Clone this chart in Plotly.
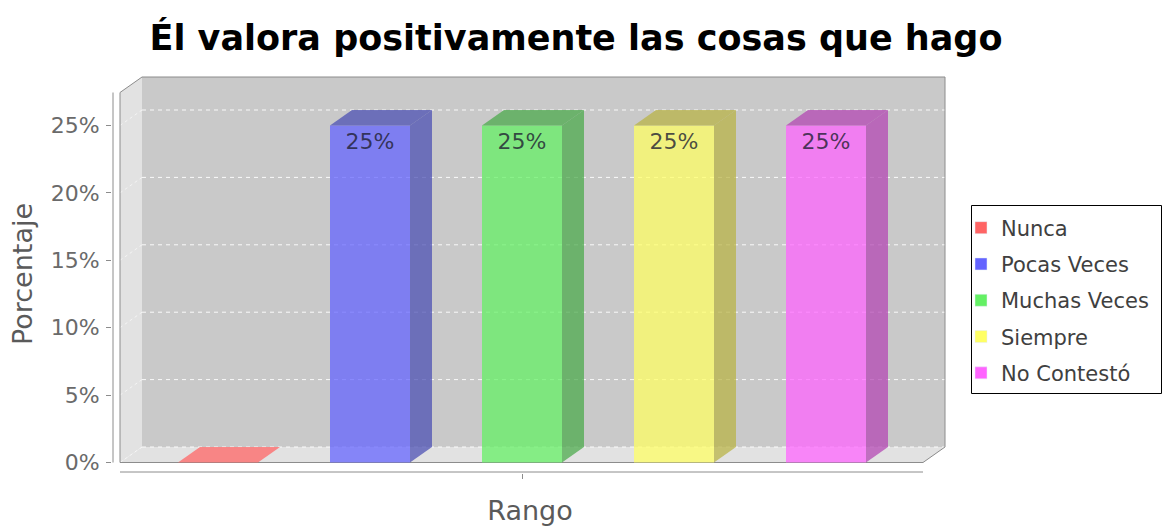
import plotly.graph_objects as go

# ---- data ----
series = ["Nunca", "Pocas Veces", "Muchas Veces", "Siempre", "No Contestó"]
values = [0, 25, 25, 25, 25]
y_ticks = [0, 5, 10, 15, 20, 25]
y_tick_labels = [f"{t}%" for t in y_ticks]
title_text = "Él valora positivamente las cosas que hago"
x_title = "Rango"
y_title = "Porcentaje"

# ---- style ----
legend_colors = ["#FF6464", "#6464FF", "#64F064", "#FFFF64", "#FF64FF"]
front_colors = ["rgba(255,100,100,0.74)", "rgba(100,100,255,0.74)", "rgba(100,240,100,0.74)",
                "rgba(255,255,100,0.74)", "rgba(255,100,255,0.74)"]
dark_colors = ["rgba(178,70,70,0.74)", "rgba(75,80,180,0.74)", "rgba(75,170,75,0.74)",
               "rgba(185,180,70,0.74)", "rgba(180,70,180,0.74)"]

# pixel geometry -> axis scales
W, H = 1165, 531
L, R, T, B = 112, 948, 75, 473
PX0, PXS = 218.0, 152.0      # pixel of series 0 centre, px per series step
PY0, PYS = 462.5, 13.48      # pixel of 0 %, px per percent
xmin, xmax = (L - PX0) / PXS, (R - PX0) / PXS
ymin, ymax = (PY0 - B) / PYS, (PY0 - T) / PYS

bar_w = 80 / PXS
dx = 22 / PXS
dy = 15.5 / PYS
xL = (120 - PX0) / PXS
xRr = (923 - PX0) / PXS
ytop_back = (PY0 - 77) / PYS
ytop_front = ytop_back - dy
x_axis_y = (PY0 - 472) / PYS
y_axis_x = (113 - PX0) / PXS

fig = go.Figure()

# 3D bar faces
for i, (name, v) in enumerate(zip(series, values)):
    x0, x1 = i - bar_w / 2, i + bar_w / 2
    # side face
    if v > 0:
        fig.add_trace(go.Scatter(
            x=[x1, x1 + dx, x1 + dx, x1, x1], y=[0, dy, v + dy, v, 0],
            fill="toself", fillcolor=dark_colors[i], line=dict(width=0),
            mode="lines", showlegend=False, hoverinfo="skip"))
    # top face
    fig.add_trace(go.Scatter(
        x=[x0, x1, x1 + dx, x0 + dx, x0], y=[v, v, v + dy, v + dy, v],
        fill="toself", fillcolor=(dark_colors[i] if v > 0 else front_colors[i]),
        line=dict(width=0), mode="lines", showlegend=False, hoverinfo="skip"))
    # front face
    fig.add_trace(go.Bar(
        x=[i], y=[v], width=bar_w, marker=dict(color=front_colors[i], line=dict(width=0)),
        text=[f"{v:g}%" if v > 0 else ""], textposition="inside", insidetextanchor="end",
        textfont=dict(family="DejaVu Sans", size=22, color="rgba(30,30,50,0.8)"),
        constraintext="none", showlegend=False, hoverinfo="skip"))

# legend entries
for i, name in enumerate(series):
    fig.add_trace(go.Bar(x=[None], y=[None], name=name, legendgroup=name,
                         marker=dict(color=legend_colors[i])))

shapes = []
back_col = "#C9C9C9"
wall_col = "#E2E2E2"
# back wall
shapes.append(dict(type="rect", xref="x", yref="y", x0=xL + dx, x1=xRr + dx, y0=dy, y1=ytop_back,
                   fillcolor=back_col, line=dict(width=0), layer="below"))
# left wall
shapes.append(dict(type="path", xref="x", yref="y",
                   path=f"M{xL},0 L{xL},{ytop_front} L{xL+dx},{ytop_back} L{xL+dx},{dy} Z",
                   fillcolor=wall_col, line=dict(width=0), layer="below"))
# floor
shapes.append(dict(type="path", xref="x", yref="y",
                   path=f"M{xL},0 L{xRr},0 L{xRr+dx},{dy} L{xL+dx},{dy} Z",
                   fillcolor=wall_col, line=dict(width=0), layer="below"))
# gridlines
for t in y_ticks:
    shapes.append(dict(type="line", xref="x", yref="y", x0=xL + dx, x1=xRr + dx, y0=t + dy, y1=t + dy,
                       line=dict(color="rgba(255,255,255,0.9)", width=1, dash="4px,4px"), layer="below"))
    shapes.append(dict(type="line", xref="x", yref="y", x0=xL, x1=xL + dx, y0=t, y1=t + dy,
                       line=dict(color="rgba(255,255,255,0.6)", width=1, dash="3px,3px"), layer="below"))
# outline of box
shapes.append(dict(type="path", xref="x", yref="y",
                   path=(f"M{xL},0 L{xL},{ytop_front} L{xL+dx},{ytop_back} L{xRr+dx},{ytop_back} "
                         f"L{xRr+dx},{dy} L{xRr},0 Z"),
                   line=dict(color="#8C8C8C", width=1), layer="below"))
# axis lines
shapes.append(dict(type="line", xref="x", yref="y", x0=y_axis_x, x1=y_axis_x, y0=0, y1=ytop_front,
                   line=dict(color="#8C8C8C", width=1)))
shapes.append(dict(type="line", xref="x", yref="y", x0=xL, x1=xRr, y0=x_axis_y, y1=x_axis_y,
                   line=dict(color="#8C8C8C", width=1)))
# legend frame
shapes.append(dict(type="rect", xref="paper", yref="paper",
                   x0=(971.5 - L) / (R - L), x1=(1161.5 - L) / (R - L),
                   y0=(B - 393.5) / (B - T), y1=(B - 205.5) / (B - T),
                   line=dict(color="black", width=1), fillcolor="rgba(0,0,0,0)"))

fig.update_layout(
    width=W, height=H,
    margin=dict(l=L, r=W - R, t=T, b=H - B, autoexpand=False),
    paper_bgcolor="white", plot_bgcolor="white",
    barmode="overlay",
    shapes=shapes,
    title=dict(text=f"<b>{title_text}</b>", x=576 / W, xref="container", xanchor="center",
               y=1 - 38 / H, yref="container", yanchor="middle",
               font=dict(family="DejaVu Sans", size=35, color="black")),
    xaxis=dict(range=[xmin, xmax], showgrid=False, zeroline=False, showline=False,
               tickvals=[2], ticktext=[""], ticks="outside", ticklen=5, tickcolor="#8C8C8C",
               title=dict(text=x_title, standoff=20,
                          font=dict(family="DejaVu Sans", size=27, color="#5A5A5A"))),
    yaxis=dict(range=[ymin, ymax], showgrid=False, zeroline=False, showline=False,
               tickvals=y_ticks, ticktext=y_tick_labels, ticks="outside", ticklen=5,
               tickcolor="#8C8C8C", ticklabelstandoff=2,
               tickfont=dict(family="DejaVu Sans", size=22, color="#6A6A6A"),
               title=dict(text=y_title, standoff=10,
                          font=dict(family="DejaVu Sans", size=27, color="#5A5A5A"))),
    legend=dict(x=(961 - L) / (R - L), xanchor="left", y=(B - 207.5) / (B - T), yanchor="top",
                borderwidth=0, bgcolor="rgba(0,0,0,0)",
                font=dict(family="DejaVu Sans", size=21, color="#404040"),
                tracegroupgap=6, itemwidth=30),
)

fig.write_html("out.html", config={"displayModeBar": False},
               post_script="document.body.style.margin='0';")
